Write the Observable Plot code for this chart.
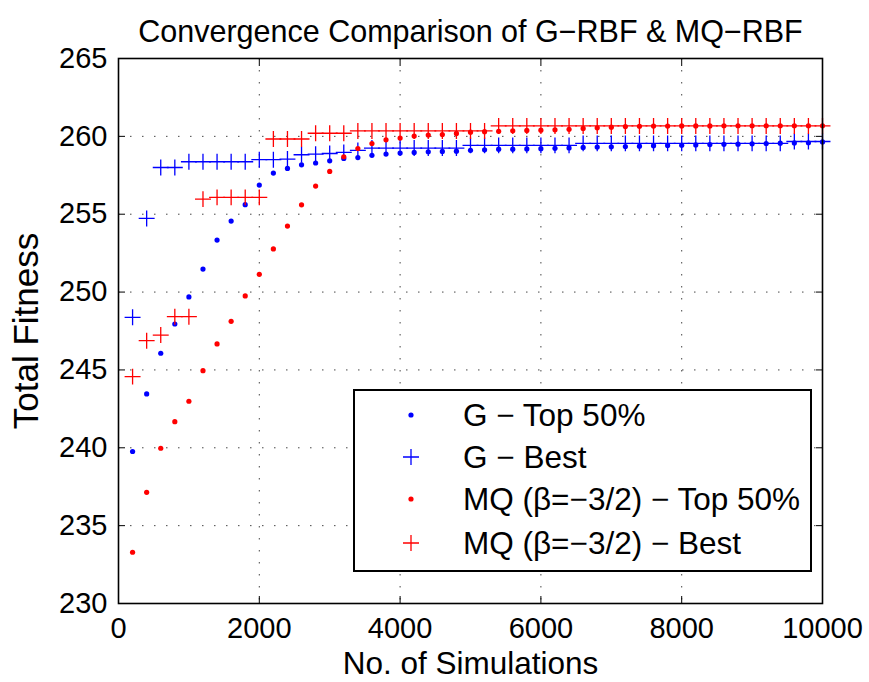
<!DOCTYPE html>
<html>
<head>
<meta charset="utf-8">
<script src="https://cdn.jsdelivr.net/npm/d3@7"></script>
<script src="https://cdn.jsdelivr.net/npm/@observablehq/plot@0.6"></script>
<style>
  body { margin: 0; background: #fff; }
  #wrap { position: relative; width: 869px; height: 682px; font-family: "Liberation Sans", Arial, sans-serif; }
  #legend { position: absolute; left: 353px; top: 389px; width: 455px; height: 179px; border: 2px solid #000; background: #fff; box-sizing: content-box; }
  .row { position: absolute; left: 0; right: 0; height: 40px; }
  .row svg { position: absolute; left: 46px; top: 10px; }
  .row span { position: absolute; left: 108px; top: 0; line-height: 40px; font-size: 31.5px; white-space: nowrap; color: #000; }
</style>
</head>
<body>
<div id="wrap"></div>
<script>
// ---- data ----
const simulations = [200, 400, 600, 800, 1000, 1200, 1400, 1600, 1800, 2000,
  2200, 2400, 2600, 2800, 3000, 3200, 3400, 3600, 3800, 4000,
  4200, 4400, 4600, 4800, 5000, 5200, 5400, 5600, 5800, 6000,
  6200, 6400, 6600, 6800, 7000, 7200, 7400, 7600, 7800, 8000,
  8200, 8400, 8600, 8800, 9000, 9200, 9400, 9600, 9800, 10000];

const gTop50 = [239.76, 243.46, 246.07, 247.95, 249.69, 251.48, 253.34, 254.56, 255.61, 256.87,
  257.64, 257.94, 258.17, 258.29, 258.43, 258.58, 258.64, 258.78, 258.86, 258.93,
  258.97, 259.01, 259.03, 259.05, 259.10, 259.14, 259.18, 259.18, 259.19, 259.21,
  259.23, 259.26, 259.29, 259.31, 259.33, 259.35, 259.37, 259.40, 259.42, 259.43,
  259.45, 259.47, 259.49, 259.50, 259.52, 259.54, 259.56, 259.58, 259.59, 259.64];

const gBest = [248.38, 254.73, 258.00, 258.00, 258.37, 258.37, 258.37, 258.37, 258.37, 258.50,
  258.50, 258.54, 258.82, 258.86, 258.90, 258.97, 259.10, 259.25, 259.25, 259.25,
  259.25, 259.25, 259.25, 259.25, 259.42, 259.42, 259.42, 259.42, 259.42, 259.42,
  259.42, 259.42, 259.55, 259.55, 259.55, 259.55, 259.55, 259.55, 259.55, 259.55,
  259.55, 259.55, 259.55, 259.55, 259.55, 259.55, 259.55, 259.67, 259.67, 259.67];

const mqTop50 = [233.29, 237.14, 239.97, 241.68, 242.99, 244.95, 246.67, 248.12, 249.75, 251.14,
  252.77, 254.24, 255.60, 256.81, 257.75, 258.69, 259.22, 259.54, 259.78, 259.89,
  260.02, 260.08, 260.12, 260.19, 260.27, 260.30, 260.32, 260.36, 260.38, 260.40,
  260.42, 260.45, 260.51, 260.55, 260.59, 260.63, 260.65, 260.66, 260.66, 260.67,
  260.67, 260.67, 260.68, 260.68, 260.68, 260.68, 260.68, 260.68, 260.68, 260.68];

const mqBest = [244.57, 246.88, 247.24, 248.42, 248.42, 255.97, 256.08, 256.08, 256.08, 256.08,
  259.83, 259.83, 259.83, 260.20, 260.20, 260.20, 260.35, 260.35, 260.35, 260.35,
  260.35, 260.35, 260.35, 260.35, 260.35, 260.35, 260.67, 260.67, 260.67, 260.67,
  260.67, 260.67, 260.67, 260.67, 260.67, 260.67, 260.67, 260.67, 260.67, 260.67,
  260.67, 260.67, 260.67, 260.67, 260.67, 260.67, 260.67, 260.67, 260.67, 260.67];

const seriesNames = ["G \u2212 Top 50%", "G \u2212 Best", "MQ (\u03B2=\u22123/2) \u2212 Top 50%", "MQ (\u03B2=\u22123/2) \u2212 Best"];
const seriesColors = ["#0000ff", "#0000ff", "#ff0000", "#ff0000"];
const seriesSymbols = ["dot", "plus", "dot", "plus"];

const xTicks = [0, 2000, 4000, 6000, 8000, 10000];
const yTicks = [230, 235, 240, 245, 250, 255, 260, 265];
const titleText = "Convergence Comparison of G\u2212RBF & MQ\u2212RBF";
const xLabelText = "No. of Simulations";
const yLabelText = "Total Fitness";

// ---- build ----
const seriesValues = [gTop50, gBest, mqTop50, mqBest];
const tables = seriesValues.map(vals => simulations.map((x, i) => ({x, y: vals[i]})));

const marks = [
  Plot.gridX({ticks: xTicks, stroke: "#333", strokeOpacity: 0.9, strokeWidth: 1, strokeDasharray: "1.5,10.5"}),
  Plot.gridY({ticks: yTicks, stroke: "#333", strokeOpacity: 0.9, strokeWidth: 1, strokeDasharray: "1.5,10.5"}),
  Plot.axisX({ticks: xTicks, anchor: "bottom", tickSize: -7, fill: "none", stroke: "#000", label: null}),
  Plot.axisX({ticks: xTicks, anchor: "top", tickSize: -7, fill: "none", stroke: "#000", label: null}),
  Plot.axisY({ticks: yTicks, anchor: "left", tickSize: -7, fill: "none", stroke: "#000", label: null}),
  Plot.axisY({ticks: yTicks, anchor: "right", tickSize: -7, fill: "none", stroke: "#000", label: null}),
  Plot.axisX({ticks: xTicks, anchor: "bottom", tickSize: 0, tickPadding: 14, fontSize: 29, label: null, tickFormat: d => String(d)}),
  Plot.axisY({ticks: yTicks, anchor: "left", tickSize: 0, tickPadding: 11, fontSize: 29, label: null, tickFormat: d => String(d)}),
];

tables.forEach((data, k) => {
  if (seriesSymbols[k] === "dot") {
    marks.push(Plot.dot(data, {x: "x", y: "y", r: 2.6, fill: seriesColors[k], stroke: "none"}));
  } else {
    marks.push(Plot.dot(data, {x: "x", y: "y", symbol: "plus", r: 5.2, stroke: seriesColors[k], strokeWidth: 1.3, fill: "none"}));
  }
});

marks.push(
  Plot.frame({stroke: "#000", strokeWidth: 1.6}),
  Plot.text([titleText], {text: d => d, frameAnchor: "top", dy: -17, lineAnchor: "bottom", fontSize: 30.5, fill: "#000"}),
  Plot.text([xLabelText], {text: d => d, frameAnchor: "bottom", dy: 70, lineAnchor: "bottom", fontSize: 31.5, fill: "#000"}),
  Plot.text([yLabelText], {text: d => d, frameAnchor: "left", textAnchor: "middle", dx: -81, rotate: -90, lineAnchor: "bottom", fontSize: 35, fill: "#000"})
);

const chart = Plot.plot({
  width: 869,
  height: 682,
  marginLeft: 118,
  marginRight: 47,
  marginTop: 58,
  marginBottom: 79,
  style: {fontFamily: "'Liberation Sans', Arial, sans-serif", background: "#fff", color: "#000", overflow: "visible"},
  x: {domain: [0, 10000]},
  y: {domain: [230, 265]},
  marks
});

const wrap = document.getElementById("wrap");
wrap.appendChild(chart);

// ---- legend (HTML) ----
const legend = document.createElement("div");
legend.id = "legend";
const rowCenters = [24, 66, 108, 152];
seriesNames.forEach((name, k) => {
  const row = document.createElement("div");
  row.className = "row";
  row.style.top = (rowCenters[k] - 20) + "px";
  const ns = "http://www.w3.org/2000/svg";
  const sw = document.createElementNS(ns, "svg");
  sw.setAttribute("width", 20);
  sw.setAttribute("height", 20);
  if (seriesSymbols[k] === "dot") {
    const c = document.createElementNS(ns, "circle");
    c.setAttribute("cx", 10); c.setAttribute("cy", 10); c.setAttribute("r", 2.6);
    c.setAttribute("fill", seriesColors[k]);
    sw.appendChild(c);
  } else {
    const p = document.createElementNS(ns, "path");
    p.setAttribute("d", "M2,10H18M10,2V18");
    p.setAttribute("stroke", seriesColors[k]);
    p.setAttribute("stroke-width", 1.3);
    p.setAttribute("fill", "none");
    sw.appendChild(p);
  }
  row.appendChild(sw);
  const span = document.createElement("span");
  span.textContent = name;
  row.appendChild(span);
  legend.appendChild(row);
});
wrap.appendChild(legend);
</script>
</body>
</html>
